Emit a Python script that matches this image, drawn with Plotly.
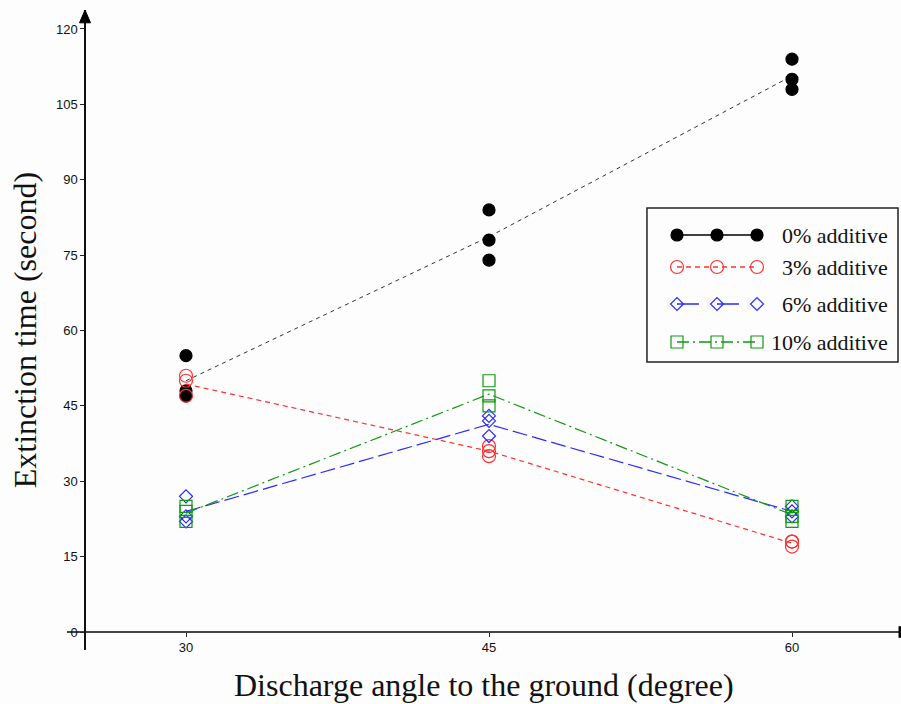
import plotly.graph_objects as go

# ---------------- data ----------------
angles = [30, 45, 60]
additive_0 = [[55, 48, 47], [84, 78, 74], [114, 110, 108]]
additive_3 = [[51, 50, 47], [37, 36, 35], [18, 18, 17]]
additive_6 = [[27, 23, 22], [43, 42, 39], [25, 24, 23]]
additive_10 = [[25, 24, 22], [50, 47, 45], [25, 23, 22]]
series_names = ["0% additive", "3% additive", "6% additive", "10% additive"]
y_ticks = [0, 15, 30, 45, 60, 75, 90, 105, 120]
x_ticks = [30, 45, 60]

# ---------------- styles ----------------
styles = [
    dict(color="#000000", symbol="circle", size=12, dash="4px,4px", lcolor="#333333", lw=1.0,
         leg_color="#000000", leg_dash="solid"),
    dict(color="#ff3030", symbol="circle-open", size=13, dash="5px,4px", lcolor="#ff3030", lw=1.2,
         leg_color="#ff3030", leg_dash="5px,4px"),
    dict(color="#2a2aff", symbol="diamond-open", size=10, dash="15px,5px", lcolor="#2a2aff", lw=1.2,
         leg_color="#2a2aff", leg_dash="22px,18px"),
    dict(color="#119911", symbol="square-open", size=12, dash="12px,4px,2px,4px", lcolor="#119911", lw=1.2,
         leg_color="#119911", leg_dash="12px,4px,2px,4px"),
]
all_series = [additive_0, additive_3, additive_6, additive_10]

X_RANGE = [24.109, 65.396]
Y_RANGE = [-3.58, 123.78]
Y_AXIS_POS = 0.0216      # paper x of vertical axis (x = 25)
X_AXIS_POS = 0.028125    # paper y of horizontal axis (y = 0)
SERIF = "Liberation Serif, Times New Roman, serif"

fig = go.Figure()

for vals, st, name in zip(all_series, styles, series_names):
    means = [sum(v) / len(v) for v in vals]
    fig.add_trace(go.Scatter(
        x=angles, y=means, mode="lines",
        line=dict(color=st["lcolor"], width=st["lw"], dash=st["dash"]),
        showlegend=False, hoverinfo="skip"))
    xs, ys = [], []
    for a, v in zip(angles, vals):
        for val in v:
            xs.append(a)
            ys.append(val)
    fig.add_trace(go.Scatter(
        x=xs, y=ys, mode="markers", name=name,
        marker=dict(symbol=st["symbol"], size=st["size"], color=st["color"],
                    line=dict(color=st["color"], width=1.2)),
        showlegend=False))

# ---------------- custom legend (pixel-space overlay axes) ----------------
leg_rows = [235, 267, 304, 342]
leg_marker_x = [677, 717, 757]
for row, st, name in zip(leg_rows, styles, series_names):
    fig.add_trace(go.Scatter(
        x=leg_marker_x, y=[row] * 3, mode="lines+markers",
        xaxis="x2", yaxis="y2",
        line=dict(color=st["leg_color"], width=1.3, dash=st["leg_dash"]),
        marker=dict(symbol=st["symbol"], size=st["size"], color=st["color"],
                    line=dict(color=st["color"], width=1.2)),
        showlegend=False, hoverinfo="skip"))

annotations = []
for row, name in zip(leg_rows, series_names):
    annotations.append(dict(
        x=890, y=row, xref="x2", yref="y2", text=name, showarrow=False,
        xanchor="right", yanchor="middle",
        font=dict(family=SERIF, size=22, color="#111111")))

# axis titles
annotations.append(dict(
    x=0.5, y=-0.055, xref="paper", yref="paper", showarrow=False,
    text="Discharge angle to the ground (degree)", xanchor="center", yanchor="middle",
    font=dict(family=SERIF, size=32, color="#111111")))
annotations.append(dict(
    x=-0.05, y=0.5, xref="paper", yref="paper", showarrow=False,
    text="Extinction time (second)", textangle=-90, xanchor="center", yanchor="middle",
    font=dict(family=SERIF, size=32, color="#111111")))

shapes = [
    # legend box
    dict(type="rect", xref="paper", yref="paper", x0=0.6954, x1=0.9964, y0=0.45, y1=0.6906,
         line=dict(color="#222222", width=1.5), fillcolor="rgba(0,0,0,0)", layer="below"),
    # arrow head on y-axis
    dict(type="path", xref="paper", yref="paper",
         path=f"M {Y_AXIS_POS - 0.0066},{0.980} L {Y_AXIS_POS + 0.0066},{0.980} L {Y_AXIS_POS},{1.0} Z",
         fillcolor="#000000", line=dict(color="#000000", width=1)),
    # end bar on x-axis
    dict(type="line", xref="paper", yref="paper", x0=0.9985, x1=0.9985,
         y0=X_AXIS_POS - 0.009, y1=X_AXIS_POS + 0.009, line=dict(color="#000000", width=2.5)),
]

tick_font = dict(family="Liberation Sans, Arial, sans-serif", size=13, color="#111111")

fig.update_layout(
    width=901, height=704,
    margin=dict(l=67, r=0, t=10, b=54),
    paper_bgcolor="#fdfdfd", plot_bgcolor="#fdfdfd",
    showlegend=False,
    xaxis=dict(range=X_RANGE, anchor="free", position=X_AXIS_POS,
               tickvals=x_ticks, ticktext=[str(t) for t in x_ticks],
               ticks="outside", ticklen=4, tickwidth=1, tickcolor="#222222",
               showline=True, linecolor="#444444", linewidth=1.5,
               showgrid=False, zeroline=False, tickfont=tick_font),
    yaxis=dict(range=Y_RANGE, anchor="free", position=Y_AXIS_POS,
               tickvals=y_ticks, ticktext=[str(t) for t in y_ticks],
               ticks="outside", ticklen=4, tickwidth=1, tickcolor="#222222",
               showline=True, linecolor="#111111", linewidth=1.5,
               showgrid=False, zeroline=False, tickfont=tick_font),
    xaxis2=dict(range=[67, 901], overlaying="x", visible=False, domain=[0, 1]),
    yaxis2=dict(range=[650, 10], overlaying="y", visible=False, domain=[0, 1]),
    annotations=annotations,
    shapes=shapes,
)

fig.write_html("out.html")
